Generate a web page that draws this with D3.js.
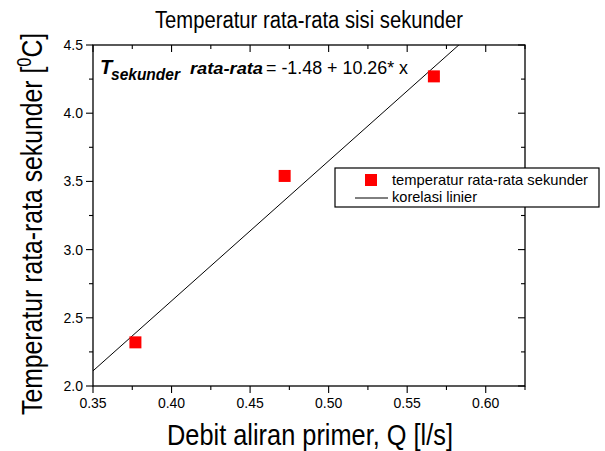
<!DOCTYPE html>
<html>
<head>
<meta charset="utf-8">
<script src="https://cdn.jsdelivr.net/npm/d3@7"></script>
<style>
  body { margin: 0; background: #fff; }
  text { font-family: "Liberation Sans", Arial, sans-serif; }
</style>
</head>
<body>
<svg id="chart" width="605" height="451"></svg>
<script>
// data
const debit = [0.377, 0.472, 0.567];
const tempSekunder = [2.32, 3.54, 4.27];
const fitIntercept = -1.48;
const fitSlope = 10.26;
const xTicks = [0.35, 0.40, 0.45, 0.50, 0.55, 0.60];
const yTicks = [2.0, 2.5, 3.0, 3.5, 4.0, 4.5];

const svg = d3.select('#chart');
const m = { left: 93, right: 525, top: 45, bottom: 386 };

const x = d3.scaleLinear().domain([0.35, 0.625]).range([m.left, m.right]);
const y = d3.scaleLinear().domain([2.0, 4.5]).range([m.bottom, m.top]);

const xMinor = d3.range(0.375, 0.625, 0.05);
const yMinor = d3.range(2.25, 4.5, 0.5);

// frame
svg.append('rect')
    .attr('x', m.left).attr('y', m.top)
    .attr('width', m.right - m.left).attr('height', m.bottom - m.top)
    .attr('fill', 'none').attr('stroke', '#000').attr('stroke-width', 1.3);

const tickLine = (g, x1, y1, x2, y2) => g.append('line')
    .attr('x1', x1).attr('y1', y1).attr('x2', x2).attr('y2', y2)
    .attr('stroke', '#000').attr('stroke-width', 1.1);

const ticks = svg.append('g');
xTicks.forEach(v => {
    tickLine(ticks, x(v), m.bottom, x(v), m.bottom + 7);
    tickLine(ticks, x(v), m.top, x(v), m.top + 7);
});
xMinor.forEach(v => {
    tickLine(ticks, x(v), m.bottom, x(v), m.bottom + 4);
    tickLine(ticks, x(v), m.top, x(v), m.top + 4);
});
tickLine(ticks, m.right, m.bottom, m.right, m.bottom + 4);
tickLine(ticks, m.right, m.top, m.right, m.top + 4);
yTicks.forEach(v => {
    tickLine(ticks, m.left - 7, y(v), m.left, y(v));
    tickLine(ticks, m.right - 7, y(v), m.right, y(v));
});
yMinor.forEach(v => {
    tickLine(ticks, m.left - 4, y(v), m.left, y(v));
    tickLine(ticks, m.right - 4, y(v), m.right, y(v));
});

svg.append('g').selectAll('text').data(xTicks).join('text')
    .attr('x', d => x(d)).attr('y', m.bottom + 22)
    .attr('text-anchor', 'middle').attr('font-size', 14)
    .text(d => d3.format('.2f')(d));

svg.append('g').selectAll('text').data(yTicks).join('text')
    .attr('x', m.left - 10).attr('y', d => y(d) + 5)
    .attr('text-anchor', 'end').attr('font-size', 14)
    .text(d => d3.format('.1f')(d));

// fit line, clipped to the plot
svg.append('clipPath').attr('id', 'clip')
    .append('rect').attr('x', m.left).attr('y', m.top)
    .attr('width', m.right - m.left).attr('height', m.bottom - m.top);

const xs = x.domain();
svg.append('line')
    .attr('clip-path', 'url(#clip)')
    .attr('x1', x(xs[0])).attr('y1', y(fitIntercept + fitSlope * xs[0]))
    .attr('x2', x(xs[1])).attr('y2', y(fitIntercept + fitSlope * xs[1]))
    .attr('stroke', '#000').attr('stroke-width', 1);

// points
svg.append('g').selectAll('rect').data(debit).join('rect')
    .attr('x', d => x(d) - 6).attr('y', (d, i) => y(tempSekunder[i]) - 6)
    .attr('width', 12).attr('height', 12).attr('fill', '#ff0000');

// title and axis labels
svg.append('text').attr('x', 309).attr('y', 28)
    .attr('text-anchor', 'middle').attr('font-size', 23)
    .attr('textLength', 308).attr('lengthAdjust', 'spacingAndGlyphs')
    .text('Temperatur rata-rata sisi sekunder');

svg.append('text').attr('x', 310).attr('y', 445)
    .attr('text-anchor', 'middle').attr('font-size', 30)
    .attr('textLength', 286).attr('lengthAdjust', 'spacingAndGlyphs')
    .text('Debit aliran primer, Q [l/s]');

// condensed by a horizontal scale instead of textLength
const yl = svg.append('text')
    .attr('transform', 'translate(42,415) rotate(-90) scale(0.826,1)')
    .attr('font-size', 30);
yl.append('tspan').text('Temperatur rata-rata sekunder [');
yl.append('tspan').attr('dy', -11).attr('font-size', 20).text('0');
yl.append('tspan').attr('dy', 11).text('C]');

// regression equation
const eq = svg.append('g').attr('font-weight', 'bold').attr('font-style', 'italic');
eq.append('text').attr('x', 100).attr('y', 74).attr('font-size', 20).text('T');
eq.append('text').attr('x', 111).attr('y', 80).attr('font-size', 17)
    .attr('textLength', 69).attr('lengthAdjust', 'spacingAndGlyphs').text('sekunder');
eq.append('text').attr('x', 190).attr('y', 74).attr('font-size', 17)
    .attr('textLength', 73).attr('lengthAdjust', 'spacingAndGlyphs').text('rata-rata');
svg.append('text').attr('x', 266).attr('y', 74).attr('font-size', 18)
    .attr('textLength', 142).attr('lengthAdjust', 'spacingAndGlyphs')
    .text(`= ${fitIntercept} + ${fitSlope}* x`);

// legend
const lg = svg.append('g');
lg.append('rect').attr('x', 335).attr('y', 168).attr('width', 264).attr('height', 39)
    .attr('fill', '#fff').attr('stroke', '#000').attr('stroke-width', 1.2);
lg.append('rect').attr('x', 365).attr('y', 174).attr('width', 12).attr('height', 12)
    .attr('fill', '#ff0000');
lg.append('text').attr('x', 392).attr('y', 185).attr('font-size', 15)
    .attr('textLength', 196).attr('lengthAdjust', 'spacingAndGlyphs')
    .text('temperatur rata-rata sekunder');
lg.append('line').attr('x1', 355).attr('x2', 388).attr('y1', 198).attr('y2', 198)
    .attr('stroke', '#000').attr('stroke-width', 1);
lg.append('text').attr('x', 392).attr('y', 202).attr('font-size', 15)
    .attr('textLength', 85).attr('lengthAdjust', 'spacingAndGlyphs')
    .text('korelasi linier');
</script>
</body>
</html>
